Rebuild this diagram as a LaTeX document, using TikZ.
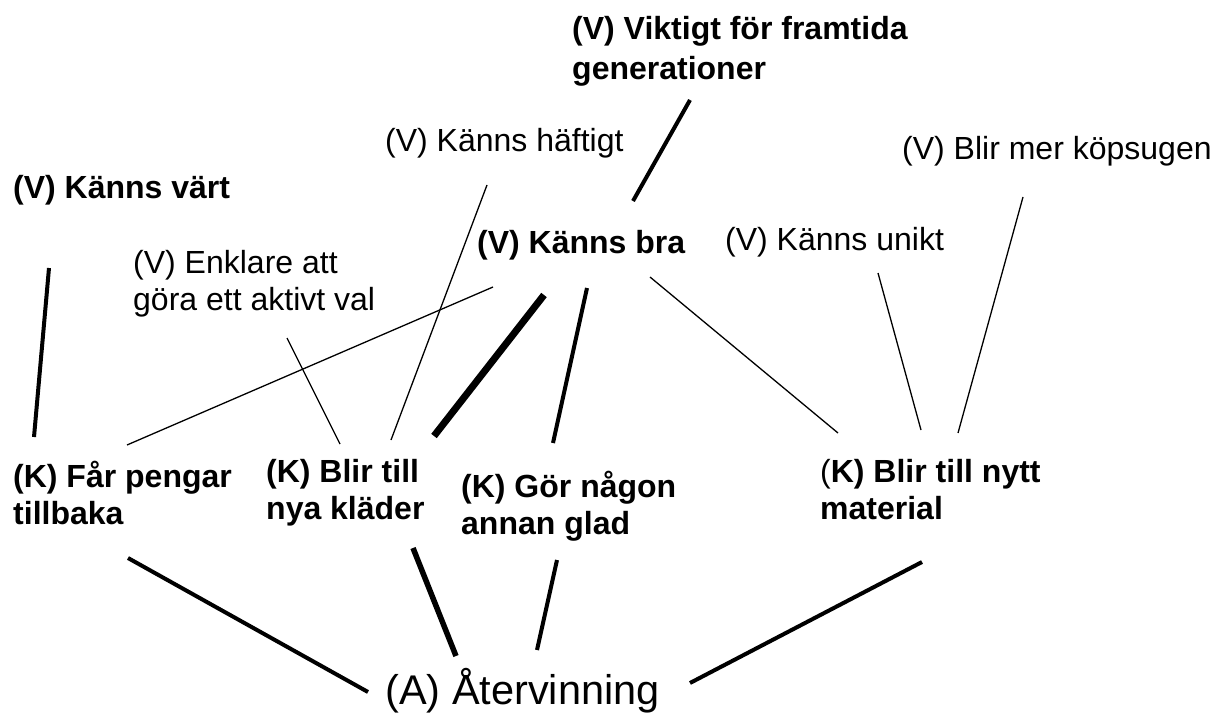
\documentclass[tikz,border=0pt]{standalone}
\usepackage{fontspec}
\setmainfont{Liberation Sans}
\newcommand\twolines[2]{\begin{tabular}[t]{@{}l@{}}#1\\#2\end{tabular}}
\begin{document}
\begin{tikzpicture}[x=1pt,y=-1pt,
  lbl/.style={anchor=base west, inner sep=0pt, font=\fontsize{32}{37.5}\selectfont},
  blbl/.style={anchor=base west, inner sep=0pt, font=\fontsize{32}{37.5}\selectfont\bfseries},
  weak/.style={line width=1.3pt},
  strong/.style={line width=4pt},
  stronger/.style={line width=5.5pt},
  heavy/.style={line width=7pt}]
\useasboundingbox[fill=white] (0,0) rectangle (1218,714);

% labels
\node[blbl, font=\fontsize{32}{39.5}\selectfont\bfseries] (vf) at (572,40) {\twolines{(V) Viktigt för framtida}{generationer}};
\node[lbl]  (kh) at (385,152) {(V) Känns häftigt};
\node[lbl]  (bk) at (902,160) {(V) Blir mer köpsugen};
\node[blbl] (kv) at (13,199) {(V) Känns värt};
\node[lbl]  (ek) at (133,273) {\twolines{(V) Enklare att}{göra ett aktivt val}};
\node[blbl] (kb) at (477,254) {(V) Känns bra};
\node[lbl]  (ku) at (725,251) {(V) Känns unikt};
\node[blbl] (fp) at (13,487) {\twolines{(K) Får pengar}{tillbaka}};
\node[blbl] (bn) at (266,482) {\twolines{(K) Blir till}{nya kläder}};
\node[blbl] (gn) at (461,497) {\twolines{(K) Gör någon}{annan glad}};
\node[blbl] (bm) at (820,482) {\twolines{{\mdseries(}K) Blir till nytt}{material}};
\node[anchor=base west, inner sep=0pt, font=\fontsize{41.5}{48}\selectfont] (at) at (385,704) {(A) Återvinning};

% connector end points
\coordinate (kv-s) at (49,268);   \coordinate (kv-e) at (34,437);
\coordinate (kb-fp) at (493,287); \coordinate (fp-kb) at (127,445);
\coordinate (ek-bn) at (287,338); \coordinate (bn-ek) at (340,444);
\coordinate (kh-bn) at (487,185); \coordinate (bn-kh) at (391,440);
\coordinate (vf-kb) at (690,100); \coordinate (kb-vf) at (633,201);
\coordinate (kb-bn) at (544,295); \coordinate (bn-kb) at (434,436);
\coordinate (kb-gn) at (587,288); \coordinate (gn-kb) at (553,443);
\coordinate (kb-bm) at (650,277); \coordinate (bm-kb) at (838,433);
\coordinate (ku-bm) at (878,273); \coordinate (bm-ku) at (921,430);
\coordinate (bk-bm) at (1023,197); \coordinate (bm-bk) at (958,433);
\coordinate (fp-at) at (128,558); \coordinate (at-fp) at (368,692);
\coordinate (bn-at) at (413,548); \coordinate (at-bn) at (456,656);
\coordinate (gn-at) at (557,560); \coordinate (at-gn) at (537,650);
\coordinate (bm-at) at (922,562); \coordinate (at-bm) at (690,683);

% connectors
\draw[strong] (kv-s) -- (kv-e);
\draw[weak] (kb-fp) -- (fp-kb);
\draw[weak] (ek-bn) -- (bn-ek);
\draw[weak] (kh-bn) -- (bn-kh);
\draw[strong] (vf-kb) -- (kb-vf);
\draw[heavy] (kb-bn) -- (bn-kb);
\draw[strong] (kb-gn) -- (gn-kb);
\draw[weak] (kb-bm) -- (bm-kb);
\draw[weak] (ku-bm) -- (bm-ku);
\draw[weak] (bk-bm) -- (bm-bk);
\draw[strong] (fp-at) -- (at-fp);
\draw[stronger] (bn-at) -- (at-bn);
\draw[strong] (gn-at) -- (at-gn);
\draw[strong] (bm-at) -- (at-bm);
\end{tikzpicture}
\end{document}
